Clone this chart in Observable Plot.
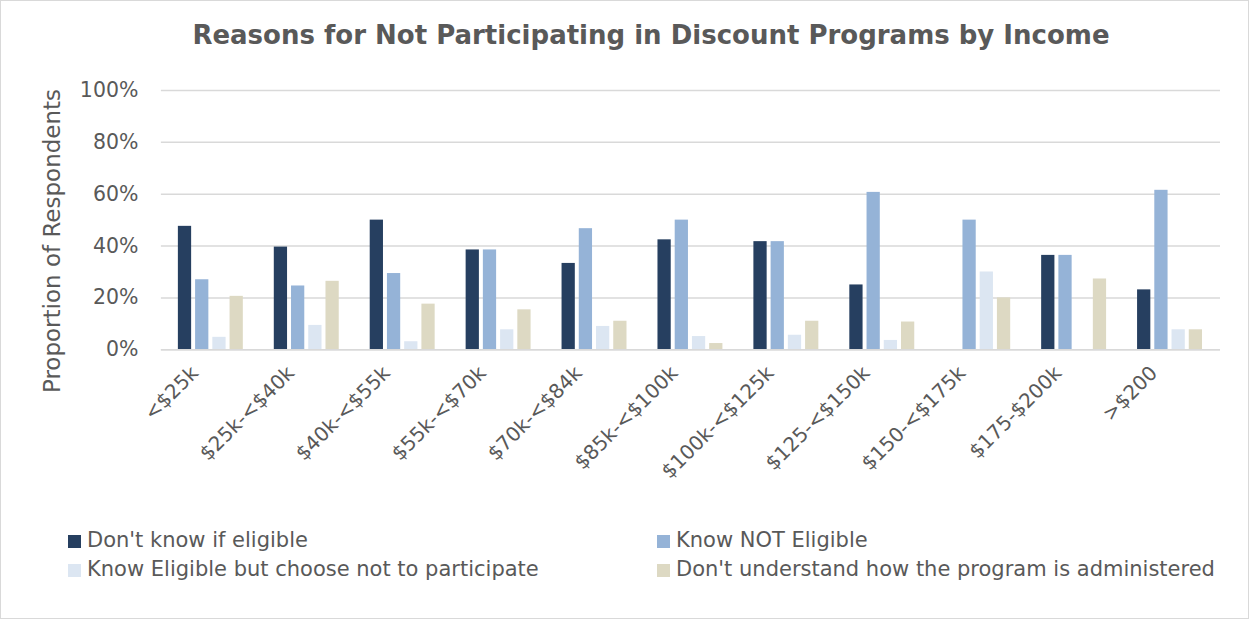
<!DOCTYPE html>
<html>
<head>
<meta charset="utf-8">
<script src="https://cdn.jsdelivr.net/npm/d3@7"></script>
<script src="https://cdn.jsdelivr.net/npm/@observablehq/plot@0.6"></script>
<style>
  html, body { margin: 0; padding: 0; background: #fff; }
  #frame {
    position: relative; width: 1247px; height: 617px;
    border: 1px solid #d9d9d9; background: #fff; overflow: hidden;
    font-family: "DejaVu Sans", Verdana, sans-serif; color: #595959;
  }
  #title {
    position: absolute; left: 0; top: 19px; width: 1300px; text-align: center;
    font-size: 26px; font-weight: bold; color: #595959;
  }
  #ylabel {
    position: absolute; left: 51px; top: 240px; transform: translate(-50%, -50%) rotate(-90deg);
    white-space: nowrap; font-size: 23px; color: #595959;
  }
  #chart { position: absolute; left: -1px; top: 69px; }
  #legend { position: absolute; left: 67px; top: 527px; width: 1180px; }
  .item { position: absolute; white-space: nowrap; font-size: 21px; color: #595959; }
  .sw { display: inline-block; width: 13px; height: 13px; margin-right: 6px; vertical-align: -1px; }
</style>
</head>
<body>
<div id="frame">
  <div id="title">Reasons for Not Participating in Discount Programs by Income</div>
  <div id="ylabel">Proportion of Respondents</div>
  <div id="chart"></div>
  <div id="legend"></div>
</div>
<script>
const incomes = ["<$25k", "$25k-<$40k", "$40k-<$55k", "$55k-<$70k", "$70k-<$84k", "$85k-<$100k",
  "$100k-<$125k", "$125-<$150k", "$150-<$175k", "$175-$200k", ">$200"];
const seriesNames = ["Don't know if eligible", "Know NOT Eligible",
  "Know Eligible but choose not to participate", "Don't understand how the program is administered"];
const seriesColors = ["#263f60", "#95b3d7", "#dce6f2", "#ddd9c3"];
const dontKnow       = [47.6, 39.6, 50.0, 38.5, 33.3, 42.4, 41.7, 25.0, 0, 36.4, 23.1];
const knowNot        = [27.0, 24.6, 29.4, 38.5, 46.7, 50.0, 41.7, 60.7, 50.0, 36.4, 61.5];
const knowEligible   = [4.8, 9.4, 3.1, 7.7, 9.0, 5.1, 5.6, 3.6, 30.0, 0, 7.7];
const dontUnderstand = [20.6, 26.4, 17.6, 15.4, 11.0, 2.4, 11.0, 10.7, 20.0, 27.3, 7.7];
const yTicks = [0, 0.2, 0.4, 0.6, 0.8, 1.0];

const seriesValues = [dontKnow, knowNot, knowEligible, dontUnderstand];
const data = [];
incomes.forEach((inc, i) => {
  seriesNames.forEach((s, j) => {
    data.push({income: inc, series: s, value: seriesValues[j][i] / 100});
  });
});

// layout of the clustered bars inside each income band
const W = 1249, ML = 161, MR = 28;
const padIn = 0.32, padOut = 0.16;
const step = (W - ML - MR) / (incomes.length - padIn + 2 * padOut);
const bandW = step * (1 - padIn);
const subStep = bandW / (seriesNames.length - 0.2);
const barW = subStep * 0.8;

const barMarks = seriesNames.map((s, j) =>
  Plot.barY(data.filter(d => d.series === s && d.value > 0), {
    x: "income", y: "value", fill: "series",
    insetLeft: j * subStep,
    insetRight: bandW - j * subStep - barW
  })
);

const chart = Plot.plot({
  width: W,
  height: 450,
  marginLeft: ML,
  marginRight: MR,
  marginTop: 20,
  marginBottom: 170.5,
  style: {fontFamily: "DejaVu Sans, Verdana, sans-serif", fontSize: "20px", color: "#595959", background: "transparent"},
  x: {domain: incomes, paddingInner: padIn, paddingOuter: padOut, label: null},
  y: {domain: [0, 1], label: null},
  color: {domain: seriesNames, range: seriesColors},
  marks: [
    Plot.gridY(yTicks, {stroke: "#d9d9d9", strokeOpacity: 1, strokeWidth: 1.5}),
    ...barMarks,
    Plot.ruleY([0], {stroke: "#d9d9d9", strokeWidth: 1.5}),
    Plot.axisY(yTicks, {tickFormat: d3.format(".0%"), tickSize: 0, tickPadding: 23, label: null, fontSize: 20.5}),
    Plot.axisX({tickRotate: -45, tickSize: 0, tickPadding: 20, dx: -16, label: null, fontSize: 20})
  ]
});
document.getElementById("chart").appendChild(chart);

const legend = document.getElementById("legend");
const pos = [[0, 0], [589, 0], [0, 29], [589, 29]];
seriesNames.forEach((s, j) => {
  const el = document.createElement("div");
  el.className = "item";
  el.style.left = pos[j][0] + "px";
  el.style.top = pos[j][1] + "px";
  el.innerHTML = `<span class="sw" style="background:${seriesColors[j]}"></span>`;
  el.appendChild(document.createTextNode(s));
  legend.appendChild(el);
});
</script>
</body>
</html>
